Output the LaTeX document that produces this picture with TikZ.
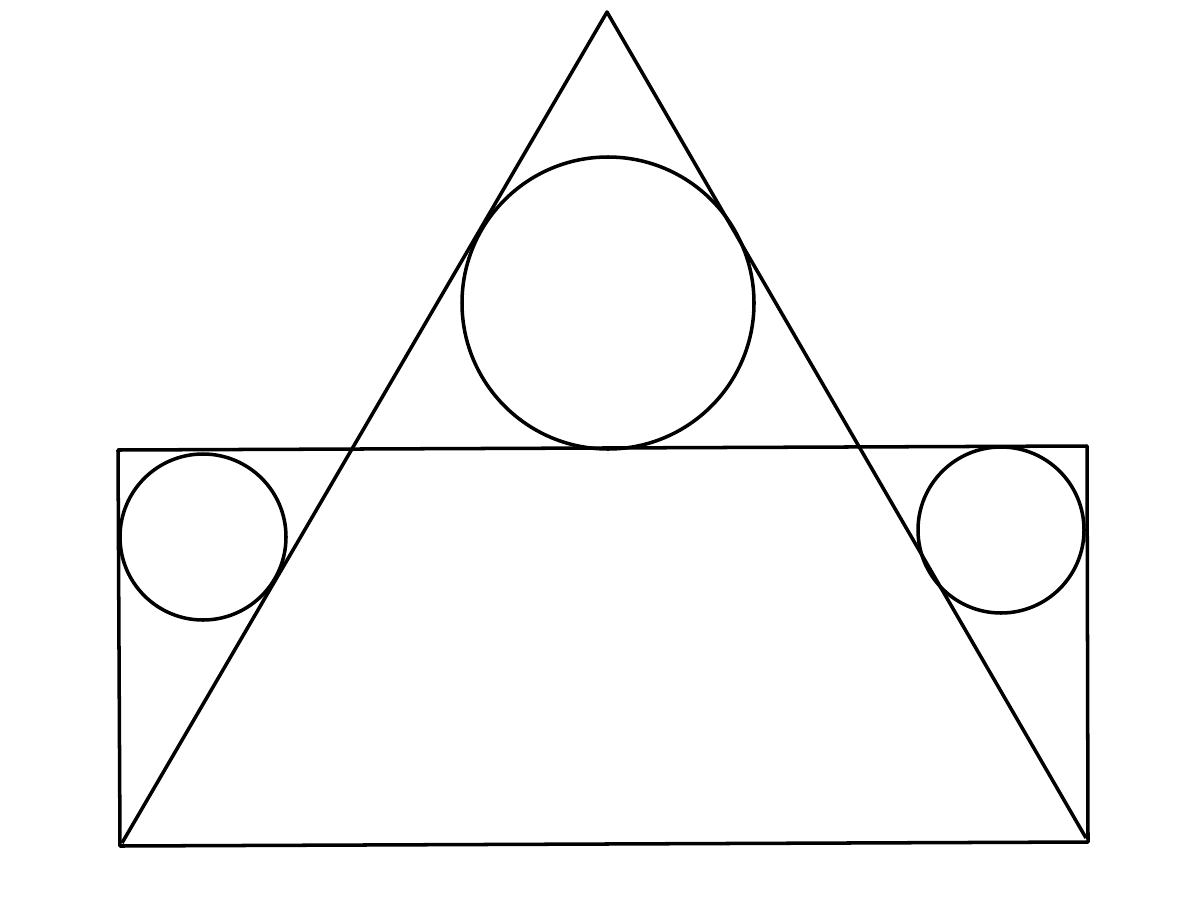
\documentclass[tikz,border=0pt]{standalone}
\begin{document}
\begin{tikzpicture}[x=0.01cm,y=-0.01cm,line width=1pt,line join=round,
  figline/.style={draw=black}]
\useasboundingbox (0,0) rectangle (1200,900);
\coordinate (apex) at (607,12);
\coordinate (bl) at (120,846);
\coordinate (br) at (1088,842);
\coordinate (tl) at (118,450);
\coordinate (tr) at (1087,446);
\coordinate (tbl) at (122,843);
\coordinate (tbr) at (1086,838);
% rectangle
\draw[figline] (bl) -- (tl) -- (tr) -- (br) -- cycle;
% triangle
\draw[figline] (tbl) -- (apex) -- (tbr);
% circles
\draw[figline] (608,303) circle[radius=146];
\draw[figline] (203,537) circle[radius=83];
\draw[figline] (1001,530) circle[radius=83];
\end{tikzpicture}
\end{document}
